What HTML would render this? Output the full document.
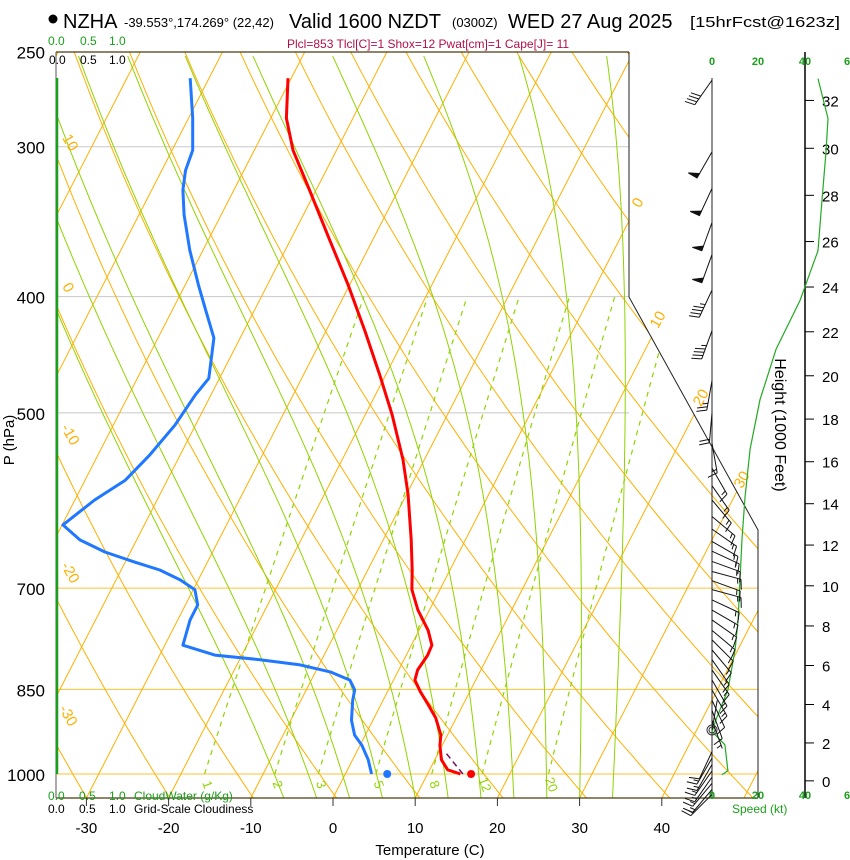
<!DOCTYPE html>
<html><head><meta charset="utf-8"><style>
body{margin:0;background:#fff;}
svg{display:block;font-family:"Liberation Sans",sans-serif;}
</style></head><body>
<svg id="chart" width="850" height="860" xmlns="http://www.w3.org/2000/svg">
<defs><clipPath id="plotclip"><polygon points="56,52 629,52 629,297 758,530 758,798 56,798"/></clipPath></defs>
<g id="header">
<circle cx="53" cy="19" r="4.5" fill="#000"/>
<text x="63" y="28" font-size="20">NZHA</text>
<text x="124" y="27" font-size="13">-39.553°,174.269° (22,42)</text>
<text x="289" y="28" font-size="20">Valid 1600 NZDT</text>
<text x="452" y="27" font-size="13">(0300Z)</text>
<text x="508" y="28" font-size="20">WED 27 Aug 2025</text>
<text x="690" y="27" font-size="15" textLength="150" lengthAdjust="spacingAndGlyphs">[15hrFcst@1623z]</text>
<text x="287" y="48" font-size="12" fill="#b0104a">Plcl=853 Tlcl[C]=1 Shox=12 Pwat[cm]=1 Cape[J]= 11</text>
</g>
<g id="grid" clip-path="url(#plotclip)"></g>
<g id="frame">
<polyline points="629,52 629,297 758,530 758,798" fill="none" stroke="#222" stroke-width="1"/>
<line x1="56" y1="52" x2="629" y2="52" stroke="#4a3a10" stroke-width="1.2"/>
<line x1="56" y1="798" x2="758" y2="798" stroke="#4a3a10" stroke-width="1.2"/>
<line x1="56" y1="52" x2="56" y2="798" stroke="#555" stroke-width="1"/>
<line x1="57" y1="78" x2="57" y2="774" stroke="#1aa01a" stroke-width="2.5"/>
<line x1="712" y1="78" x2="712" y2="798" stroke="#222" stroke-width="1"/>
<line x1="805" y1="52" x2="805" y2="798" stroke="#000" stroke-width="1.5"/>
</g>
<g id="labels" font-size="12">
<text x="48" y="45" fill="#1aa01a">0.0</text>
<text x="80" y="45" fill="#1aa01a">0.5</text>
<text x="109" y="45" fill="#1aa01a">1.0</text>
<text x="49" y="64" fill="#000">0.0</text>
<text x="80" y="64" fill="#000">0.5</text>
<text x="109" y="64" fill="#000">1.0</text>
<text x="48" y="800" fill="#1aa01a">0.0</text>
<text x="79" y="800" fill="#1aa01a">0.5</text>
<text x="109" y="800" fill="#1aa01a">1.0</text>
<text x="134" y="800" fill="#1aa01a">CloudWater (g/Kg)</text>
<text x="48" y="813" fill="#000">0.0</text>
<text x="79" y="813" fill="#000">0.5</text>
<text x="109" y="813" fill="#000">1.0</text>
<text x="134" y="813" fill="#000">Grid-Scale Cloudiness</text>
<text x="430" y="855" font-size="15" text-anchor="middle">Temperature (C)</text>
<text transform="translate(14,440) rotate(-90)" font-size="15" text-anchor="middle">P (hPa)</text>
<text transform="translate(775,425) rotate(90)" font-size="16" text-anchor="middle">Height (1000 Feet)</text>
<text x="712" y="65" fill="#1aa01a" font-weight="bold" font-size="11" text-anchor="middle">0</text>
<text x="758" y="65" fill="#1aa01a" font-weight="bold" font-size="11" text-anchor="middle">20</text>
<text x="805" y="65" fill="#1aa01a" font-weight="bold" font-size="11" text-anchor="middle">40</text>
<text x="847" y="65" fill="#1aa01a" font-weight="bold" font-size="11" text-anchor="middle">6</text>
<text x="712" y="799" fill="#1aa01a" font-weight="bold" font-size="11" text-anchor="middle">0</text>
<text x="758" y="799" fill="#1aa01a" font-weight="bold" font-size="11" text-anchor="middle">20</text>
<text x="805" y="799" fill="#1aa01a" font-weight="bold" font-size="11" text-anchor="middle">40</text>
<text x="847" y="799" fill="#1aa01a" font-weight="bold" font-size="11" text-anchor="middle">6</text>
<text x="732" y="813" fill="#1aa01a" font-size="12">Speed (kt)</text>
</g>
<g id="dyn"></g>
</svg>
<script>
// ---- data ----
const tempP = [263,284,302,326,359,391,427,465,502,547,585,638,676,702,730,759,781,796,819,835,854,876,898,928,946,973,992,1000];
const tempT = [-50.4,-48.1,-45.3,-40.8,-35.2,-30.2,-25.3,-20.7,-16.7,-12.6,-9.8,-6.6,-4.6,-3.4,-1.4,1.1,2.5,2.6,2.3,2.6,4.0,5.8,7.5,9.2,9.7,10.8,12.2,14.0];
const dewP = [263,284,302,314,326,342,366,391,410,433,468,483,512,542,569,591,620,638,653,666,676,689,702,723,744,781,796,803,811,822,835,851,868,902,928,946,973,1000];
const dewT = [-62.3,-59.5,-57.5,-57.1,-56.2,-54.5,-51.6,-48.4,-46.0,-43.2,-41.3,-41.9,-42.5,-43.7,-45.1,-47.6,-49.9,-46.9,-43.1,-38.8,-35.3,-32.2,-29.8,-28.5,-28.5,-27.8,-23.3,-17.5,-12.3,-8.2,-5.3,-4.1,-3.7,-2.6,-1.3,0.2,1.9,3.2];
const sfcTemp = 15.3;
const sfcDew = 5.1;
const parcelP = [1000,959];
const parcelT = [14.3,10.8];
const tempTicks = [-30,-20,-10,0,10,20,30,40];
const pressTicks = [250,300,400,500,700,850,1000];
const heightTicks = [0,2,4,6,8,10,12,14,16,18,20,22,24,26,28,30,32];
const mixRatios = [1,2,3,5,8,12,20];
const moistStarts = [-6,-2,2,6,10,14,18,22,26,30,34];
const speedH = [32.9,31.25,29.9,27.8,25.6,23.4,21.2,18.9,16.6,14.3,12.3,10.3,8.3,6.8,4.75,3.2,2.6,1.9,0.54,0.32];
const speedV = [45.9,50.2,49.4,47.6,45.9,38.1,27.7,20.8,16.5,14.3,13.0,12.1,11.3,10.0,6.9,1.7,0,5.6,6.9,4.3];
const barbP = [264,303,325,347,369,395,427,470,500,530,556,575,591,610,625,640,652,665,678,690,702,716,730,744,759,773,788,803,819,835,851,868,885,902,919,958,970,982,994,1006,1018,1030,1040];
const barbDir = [215,210,205,200,200,205,200,190,185,170,150,145,140,130,125,120,115,110,105,110,105,115,120,125,130,135,140,145,145,150,150,155,160,160,10,205,210,210,215,215,220,220,225];
const barbSpd = [40,50,50,50,50,45,45,25,20,15,15,15,15,15,15,15,15,15,15,15,15,15,15,15,15,15,15,15,15,15,15,10,10,5,0,10,15,15,15,15,15,15,15];

// ---- axes ----
const X0=333, KX=8.22, SK=0.513, YB=798, Y1000=774, KY=521;
function yP(p){return Y1000-KY*Math.log(1000/p);}
function xT(T,y){return X0+KX*T+SK*(YB-y);}
function yH(h){const z=h*304.8;const p=1013.25*Math.pow(1-2.25577e-5*z,5.2559);return yP(p);}
function xS(s){return 712+2.31*s;}
const NS="http://www.w3.org/2000/svg";
function mk(tag,attrs,parent){const e=document.createElementNS(NS,tag);for(const k in attrs)e.setAttribute(k,attrs[k]);parent.appendChild(e);return e;}
const grid=document.getElementById('grid'), dyn=document.getElementById('dyn');
function pathFrom(ps,ts){return ps.map((p,i)=>{const y=yP(p);return (i?'L':'M')+xT(ts[i],y).toFixed(1)+','+y.toFixed(1);}).join('');}

pressTicks.forEach(p=>{
  const y=yP(p);
  const l=mk('line',{x1:56,x2:p>=700?758:629,y1:y,y2:y,stroke:p>=700?'#ffc233':'#c8c8c8','stroke-width':1},grid);
  
  
  const t=mk('text',{x:45,y:y+7,'font-size':17,'text-anchor':'end'},dyn);
  t.textContent=p;
  
  
});
for(let T=-110;T<=50;T+=10){
  const l=mk('line',{x1:xT(T,YB),y1:YB,x2:xT(T,40),y2:40,stroke:'#ffb000','stroke-width':1},grid);
  
  
}
for(let th=220;th<=420;th+=10){
  let d='';
  for(let p=1050;p>=245;p-=10){const y=yP(p);const T=th*Math.pow(p/1000,0.286)-273.15;d+=(d?'L':'M')+xT(T,y).toFixed(1)+','+y.toFixed(1);}
  const e=mk('path',{d:d,fill:'none',stroke:'#ffb000','stroke-width':1},grid);
  
  
}
function es(Tc){return 6.112*Math.exp(17.67*Tc/(Tc+243.5));}
moistStarts.forEach(T0=>{
  let T=T0+273.15, p=1047, d='';
  while(p>=250){
    const y=yP(p);d+=(d?'L':'M')+xT(T-273.15,y).toFixed(1)+','+y.toFixed(1);
    for(let k=0;k<5;k++){
      const e=es(T-273.15), rs=0.622*e/(p-e);
      const dTdp=(287*T+2.5e6*rs)/(1004+2.5e6*2.5e6*rs*0.622/(287*T*T))/p;
      T-=dTdp*1;p-=1;
    }
  }
  const e=mk('path',{d:d,fill:'none',stroke:'#8fd400','stroke-width':1},grid);
  
  
});
mixRatios.forEach(w=>{
  let d='';
  for(let p=1000;p>=400;p-=20){const e=w*p/(622+w);const L=Math.log(e/6.112);const T=243.5*L/(17.67-L);const y=yP(p);d+=(d?'L':'M')+xT(T,y).toFixed(1)+','+y.toFixed(1);}
  const e=mk('path',{d:d,fill:'none',stroke:'#8fd400','stroke-width':1.2,'stroke-dasharray':'5,5'},grid);
  
  
  const e2=w*1000/(622+w), L=Math.log(e2/6.112), Td=243.5*L/(17.67-L);
  const lx=xT(Td,788)+6;
  const t=mk('text',{transform:`translate(${lx},786) rotate(70)`,'font-size':13,fill:'#8fd400','text-anchor':'middle'},dyn);
  t.textContent=w;
  
  
});
[[10,66,145,60],[0,64,290,60],[-10,66,437,60],[-20,66,575,60],[-30,64,718,60],[0,642,205,-60],[10,662,322,-60],[20,705,400,-60],[30,746,482,-60]].forEach(a=>{
  const t=mk('text',{transform:`translate(${a[1]},${a[2]}) rotate(${a[3]})`,'font-size':15,fill:'#ffb000','text-anchor':'middle'},dyn);
  t.textContent=a[0];
  
  
});
tempTicks.forEach(T=>{
  const x=X0+KX*T;
  const l=mk('line',{x1:x,x2:x,y1:798,y2:806,stroke:'#333'},dyn);
  
  
  const t=mk('text',{x:x,y:833,'font-size':15,'text-anchor':'middle'},dyn);
  t.textContent=T;
  
  
});
heightTicks.forEach(h=>{
  const y=yH(h);
  const l=mk('line',{x1:805,x2:814,y1:y,y2:y,stroke:'#000'},dyn);
  
  
  const t=mk('text',{x:822,y:y+6,'font-size':15},dyn);
  t.textContent=h;
  
  
});
{
  const d=speedH.map((h,i)=>(i?'L':'M')+xS(speedV[i]).toFixed(1)+','+yH(h).toFixed(1)).join('');
  const e=mk('path',{d:d,fill:'none',stroke:'#22aa22','stroke-width':1.2},dyn);
  
  
}
barbP.forEach((p,i)=>{
  const y=yP(p), dir=barbDir[i]*Math.PI/180, spd=barbSpd[i];
  const g=mk('g',{stroke:'#111','stroke-width':1,fill:'#111'},dyn);
  
  
  const L=30, ux=Math.sin(dir), uy=-Math.cos(dir);
  const tx=712+L*ux, ty=y+L*uy;
  mk('line',{x1:712,y1:y,x2:tx,y2:ty},g);
  const px=-uy, py=ux;
  let s=Math.round(spd/5)*5, pos=0;
  while(s>=50){const ax=tx-ux*pos, ay=ty-uy*pos, bx=tx-ux*(pos+5), by=ty-uy*(pos+5);
    mk('polygon',{points:`${ax},${ay} ${bx},${by} ${ax+px*10},${ay+py*10}`},g);pos+=6;s-=50;}
  while(s>=10){const ax=tx-ux*pos, ay=ty-uy*pos;mk('line',{x1:ax,y1:ay,x2:ax+px*10+ux*3,y2:ay+py*10+uy*3},g);pos+=3.5;s-=10;}
  if(s>=5){if(pos===0)pos=3.5;const ax=tx-ux*pos, ay=ty-uy*pos;mk('line',{x1:ax,y1:ay,x2:ax+px*5+ux*1.5,y2:ay+py*5+uy*1.5},g);}
});
{
  const c=mk('circle',{cx:712,cy:730,r:5,fill:'none',stroke:'#333','stroke-width':1},dyn);
  
  
  mk('circle',{cx:712,cy:730,r:3,fill:'none',stroke:'#333','stroke-width':1},dyn);
}
{
  const par=mk('path',{d:pathFrom(parcelP,parcelT),fill:'none',stroke:'#7a1060','stroke-width':1.5,'stroke-dasharray':'6,4'},dyn);
  
  
  const dp=mk('path',{d:pathFrom(dewP,dewT),fill:'none',stroke:'#1f78ff','stroke-width':3,'stroke-linejoin':'round'},dyn);
  
  
  const tp=mk('path',{d:pathFrom(tempP,tempT),fill:'none',stroke:'#ff0000','stroke-width':3,'stroke-linejoin':'round'},dyn);
  
  
  const y=yP(1000);
  const sd=mk('circle',{cx:xT(sfcDew,y),cy:y,r:4,fill:'#1f78ff'},dyn);
  
  
  const st=mk('circle',{cx:xT(sfcTemp,y),cy:y,r:4,fill:'#ff0000'},dyn);
  
  
}
</script>
</body></html>
